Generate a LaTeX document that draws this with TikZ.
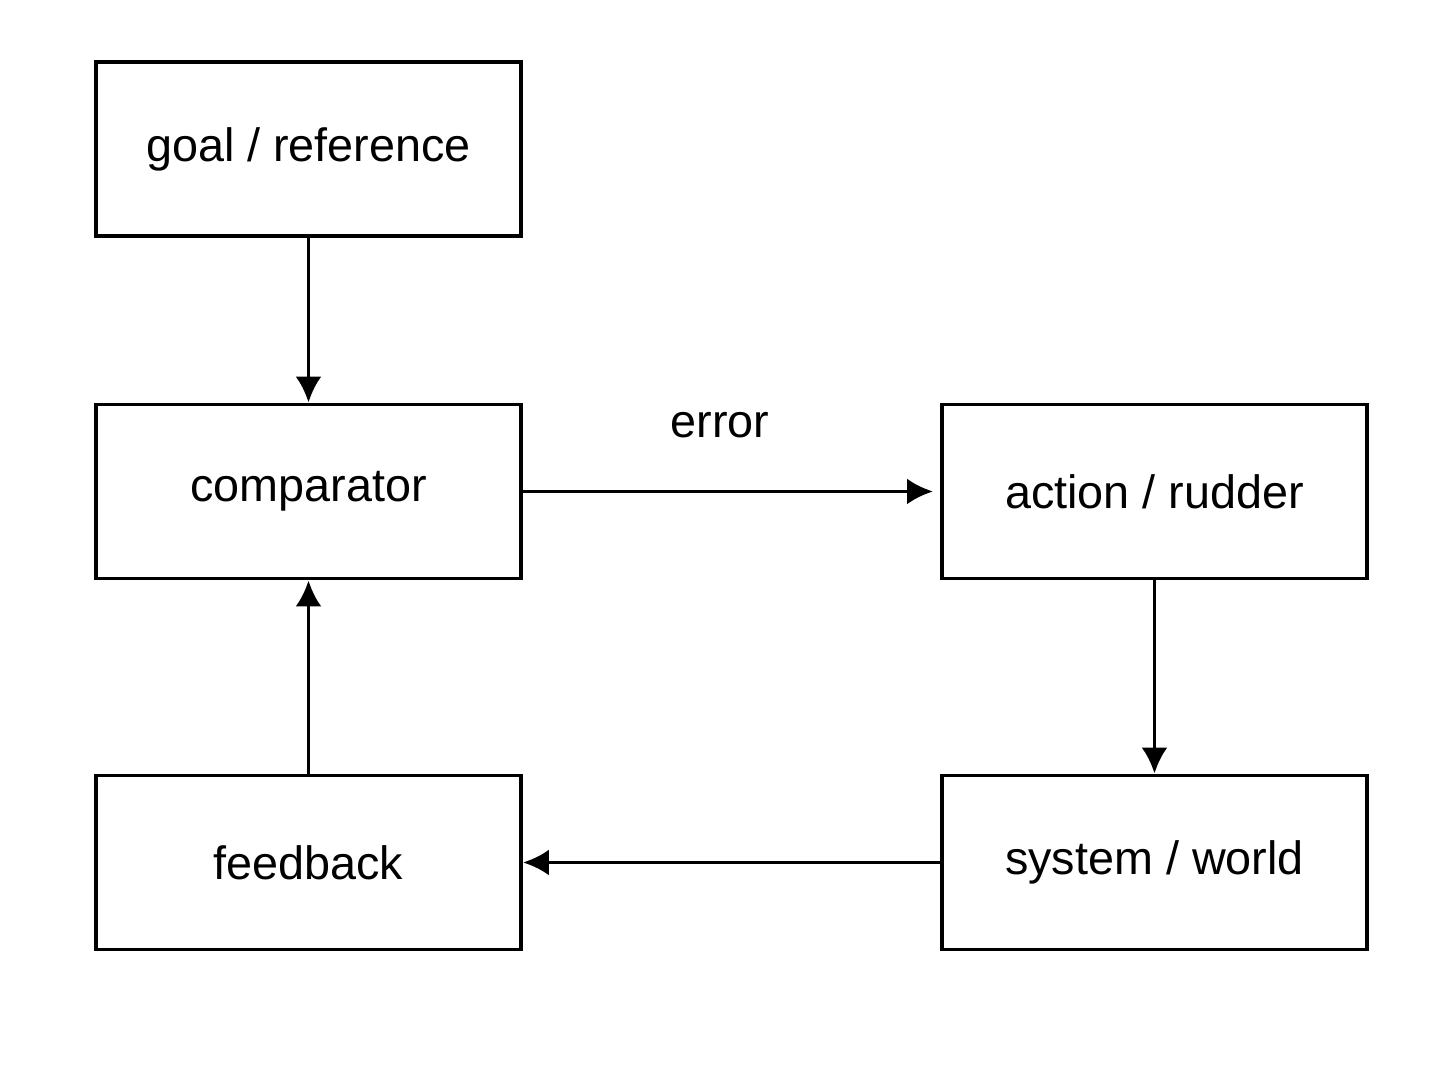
\documentclass[tikz,border=0pt]{standalone}
\usepackage{fontspec}
\setmainfont{Liberation Sans}
\usepackage{tikz}
\usetikzlibrary{positioning}
\usetikzlibrary{arrows.meta}

\begin{document}
\begin{tikzpicture}
		\useasboundingbox (0,0) rectangle (14.48,10.86);
		\tikzset{blockbox/.style={rectangle, draw=black, line width=1.1pt, minimum width=4.25cm, minimum height=1.74cm, font=\fontsize{13.3}{16}\selectfont}}
		\tikzset{flow/.style={-{Latex[length=2.6mm,width=2.6mm]}, line width=1.1pt}}
		\node[blockbox](goal) at (3.085,9.37){goal / reference};
		\node[blockbox](comparator) at (3.085,5.945){comparator};
		\node[blockbox](feedback) at (3.085,2.235){feedback};
		\node[blockbox](action) at (11.545,5.945){action / rudder};
		\node[blockbox](system) at (11.545,2.235){system / world};
		\draw [flow] (goal.south) -- (comparator.north);
		\draw [flow] (comparator.east) -- ([xshift=-2pt]action.west);
		\draw [flow] (action.south) -- (system.north);
		\draw [flow] (system.west) -- (feedback.east);
		\draw [flow] (feedback.north) -- (comparator.south);
		\node[font=\fontsize{13.3}{16}\selectfont](errorlabel) at (7.2,6.61){error};
	\end{tikzpicture}
\end{document}
